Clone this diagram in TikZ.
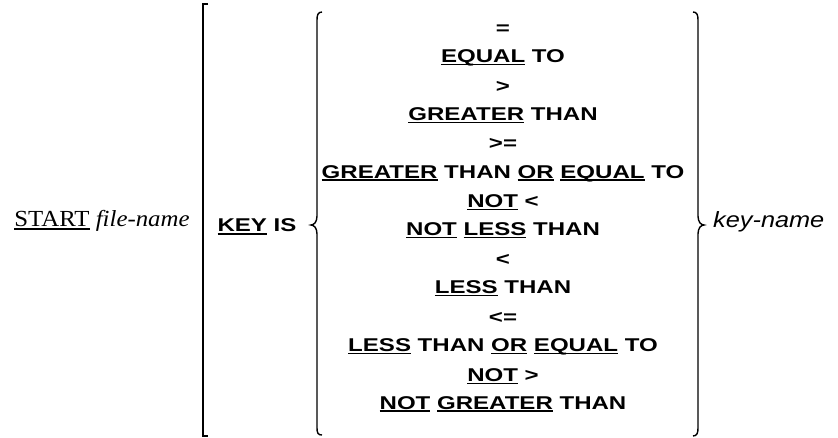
\documentclass[tikz,border=0pt]{standalone}
\usepackage{fontspec}
\setmainfont{Liberation Serif}
\newfontfamily\cobfont[FakeStretch=1.3]{Liberation Sans}
\newfontfamily\serifwide[FakeStretch=1.08]{Liberation Serif}
\newfontfamily\knfont[FakeStretch=1.15]{Liberation Sans}
\newsavebox\ulbox
\newcommand\myul[1]{\sbox\ulbox{#1}\rlap{\rule[-2.8pt]{\wd\ulbox}{1.5pt}}\usebox\ulbox}
\tikzset{
  cob/.style={font=\cobfont\bfseries\fontsize{18.5}{20}\selectfont, inner sep=0pt, anchor=base},
  serif/.style={font=\serifwide\fontsize{23}{25}\selectfont, inner sep=0pt, anchor=base},
  kname/.style={font=\knfont\itshape\fontsize{22}{24}\selectfont, inner sep=0pt, anchor=base west},
  brk/.style={line width=1.6pt},
  brc/.style={line width=1.4pt}
}
\begin{document}
\begin{tikzpicture}[x=1pt,y=-1pt]
\useasboundingbox (0,0) rectangle (838,438);
\node[serif] (start) at (102,227) {\myul{START} \textit{file-name}};
\draw[brk] (208,4) -- (203,4) -- (203,436) -- (208,436);
\node[cob] (keyis) at (257,232) {\myul{KEY} IS};
% left brace
\draw[brc] (322,12) .. controls (318,12) and (317,15) .. (317,20) -- (317,216)
  .. controls (317,222) and (314,225) .. (311,225)
  .. controls (314,225) and (317,228) .. (317,234) -- (317,428)
  .. controls (317,433) and (318,435) .. (322,435);
% right brace
\draw[brc] (693,12) .. controls (697,12) and (698,15) .. (698,20) -- (698,216)
  .. controls (698,222) and (701,225) .. (704,225)
  .. controls (701,225) and (698,228) .. (698,234) -- (698,428)
  .. controls (698,433) and (697,436) .. (693,436);
\node[cob] (s1) at (503,35) {=};
\node[cob] (w1) at (503,62.5) {\myul{EQUAL} TO};
\node[cob] (s2) at (503,92.5) {>};
\node[cob] (w2) at (503,120.3) {\myul{GREATER} THAN};
\node[cob] (s3) at (503,150) {>=};
\node[cob] (w3) at (503,178.1) {\myul{GREATER} THAN \myul{OR} \myul{EQUAL} TO};
\node[cob] (s4) at (503,207.5) {\myul{NOT} <};
\node[cob] (w4) at (503,235.5) {\myul{NOT} \myul{LESS} THAN};
\node[cob] (s5) at (503,265.5) {<};
\node[cob] (w5) at (503,293.5) {\myul{LESS} THAN};
\node[cob] (s6) at (503,323.5) {<=};
\node[cob] (w6) at (503,351.5) {\myul{LESS} THAN \myul{OR} \myul{EQUAL} TO};
\node[cob] (s7) at (503,381.5) {\myul{NOT} >};
\node[cob] (w7) at (503,409) {\myul{NOT} \myul{GREATER} THAN};
\node[kname] (kn) at (713,228) {key-name};
\end{tikzpicture}
\end{document}
